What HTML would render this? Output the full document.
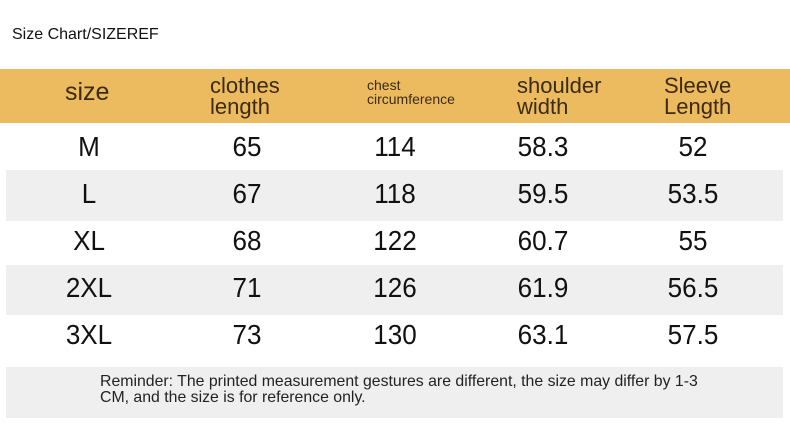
<!DOCTYPE html>
<html><head><meta charset="utf-8"><style>
html,body{margin:0;padding:0;background:#fff;}
body{width:790px;height:427px;position:relative;overflow:hidden;font-family:"Liberation Sans",sans-serif;}
.a{position:absolute;}
.hdr{left:0;top:69px;width:790px;height:54px;background:#EDBB5F;}
.g{background:#EFEFEF;left:6px;width:777px;}
.h{color:#3b2b12;font-size:22px;line-height:21px;}
.c{position:absolute;transform:translate(-50%,-50%) scaleX(0.93);font-size:28px;color:#111;white-space:nowrap;}
</style></head><body>
<div class="a" style="left:12px;top:26px;font-size:16px;color:#111;">Size Chart/SIZEREF</div>
<div class="a hdr"></div>
<div class="a h" style="left:65px;top:82px;font-size:25px;">size</div>
<div class="a h" style="left:210px;top:75px;">clothes<br>length</div>
<div class="a h" style="left:367px;top:78px;font-size:14px;line-height:14px;">chest<br>circumference</div>
<div class="a h" style="left:517px;top:75px;">shoulder<br>width</div>
<div class="a h" style="left:664px;top:75px;">Sleeve<br>Length</div>

<div class="a g" style="top:170px;height:51px;"></div>
<div class="a g" style="top:265px;height:50px;"></div>
<div class="a g" style="top:367px;height:51px;"></div>

<div class="c" style="left:89px;top:147px;">M</div>
<div class="c" style="left:247px;top:147px;">65</div>
<div class="c" style="left:395px;top:147px;">114</div>
<div class="c" style="left:543px;top:147px;">58.3</div>
<div class="c" style="left:693px;top:147px;">52</div>

<div class="c" style="left:89px;top:194px;">L</div>
<div class="c" style="left:247px;top:194px;">67</div>
<div class="c" style="left:395px;top:194px;">118</div>
<div class="c" style="left:543px;top:194px;">59.5</div>
<div class="c" style="left:693px;top:194px;">53.5</div>

<div class="c" style="left:89px;top:241px;">XL</div>
<div class="c" style="left:247px;top:241px;">68</div>
<div class="c" style="left:395px;top:241px;">122</div>
<div class="c" style="left:543px;top:241px;">60.7</div>
<div class="c" style="left:693px;top:241px;">55</div>

<div class="c" style="left:89px;top:288px;">2XL</div>
<div class="c" style="left:247px;top:288px;">71</div>
<div class="c" style="left:395px;top:288px;">126</div>
<div class="c" style="left:543px;top:288px;">61.9</div>
<div class="c" style="left:693px;top:288px;">56.5</div>

<div class="c" style="left:89px;top:335px;">3XL</div>
<div class="c" style="left:247px;top:335px;">73</div>
<div class="c" style="left:395px;top:335px;">130</div>
<div class="c" style="left:543px;top:335px;">63.1</div>
<div class="c" style="left:693px;top:335px;">57.5</div>

<div class="a" style="left:100px;top:374px;font-size:16px;line-height:16px;color:#222;white-space:nowrap;transform-origin:0 0;transform:scaleX(0.99);">Reminder: The printed measurement gestures are different, the size may differ by 1-3<br>CM, and the size is for reference only.</div>
</body></html>
